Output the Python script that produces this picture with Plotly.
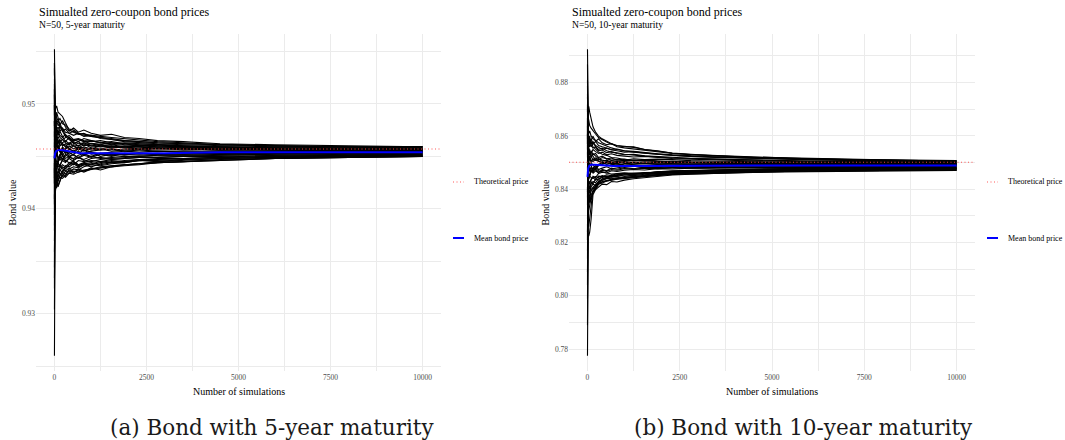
import plotly.graph_objects as go

# ---------------- data ----------------
n_sims = [1, 2, 4, 7, 12, 20, 35, 60, 100, 150, 220, 300, 400, 520, 650, 800,
          1000, 1250, 1550, 1900, 2300, 2800, 3500, 4500, 6000, 8000, 10000]

paths_5y = [
    [0.9552, 0.9524, 0.9509, 0.9494, 0.9502, 0.9492, 0.9496, 0.9498, 0.9492, 0.9490, 0.9488, 0.9482, 0.9475, 0.9473, 0.9471, 0.9472, 0.9469, 0.9468, 0.9466, 0.9465, 0.9464, 0.9463, 0.9462, 0.9461, 0.9460, 0.9459, 0.9459],
    [0.9260, 0.9334, 0.9374, 0.9394, 0.9409, 0.9414, 0.9419, 0.9424, 0.9421, 0.9427, 0.9432, 0.9430, 0.9434, 0.9433, 0.9435, 0.9436, 0.9437, 0.9439, 0.9441, 0.9442, 0.9443, 0.9444, 0.9445, 0.9446, 0.9448, 0.9449, 0.9450],
    [0.9527, 0.9539, 0.9514, 0.9499, 0.9489, 0.9484, 0.9489, 0.9482, 0.9484, 0.9478, 0.9474, 0.9476, 0.9472, 0.9470, 0.9472, 0.9469, 0.9470, 0.9467, 0.9466, 0.9464, 0.9463, 0.9462, 0.9461, 0.9460, 0.9459, 0.9458, 0.9458],
    [0.9359, 0.9394, 0.9404, 0.9419, 0.9414, 0.9424, 0.9429, 0.9426, 0.9432, 0.9434, 0.9431, 0.9436, 0.9435, 0.9438, 0.9437, 0.9440, 0.9442, 0.9441, 0.9443, 0.9444, 0.9446, 0.9445, 0.9447, 0.9448, 0.9449, 0.9450, 0.9451],
    [0.9494, 0.9514, 0.9494, 0.9479, 0.9484, 0.9476, 0.9469, 0.9474, 0.9472, 0.9479, 0.9476, 0.9470, 0.9468, 0.9465, 0.9466, 0.9464, 0.9462, 0.9463, 0.9461, 0.9462, 0.9460, 0.9461, 0.9459, 0.9458, 0.9457, 0.9457, 0.9456],
    [0.9404, 0.9444, 0.9424, 0.9414, 0.9429, 0.9426, 0.9434, 0.9432, 0.9430, 0.9436, 0.9440, 0.9438, 0.9442, 0.9444, 0.9441, 0.9443, 0.9442, 0.9444, 0.9446, 0.9445, 0.9447, 0.9448, 0.9448, 0.9449, 0.9450, 0.9451, 0.9451],
    [0.9474, 0.9434, 0.9459, 0.9472, 0.9479, 0.9484, 0.9474, 0.9478, 0.9472, 0.9468, 0.9466, 0.9463, 0.9461, 0.9464, 0.9462, 0.9463, 0.9460, 0.9461, 0.9459, 0.9460, 0.9459, 0.9458, 0.9458, 0.9457, 0.9457, 0.9456, 0.9456],
    [0.9334, 0.9374, 0.9399, 0.9406, 0.9419, 0.9429, 0.9424, 0.9432, 0.9436, 0.9442, 0.9446, 0.9444, 0.9448, 0.9445, 0.9442, 0.9444, 0.9446, 0.9445, 0.9447, 0.9448, 0.9449, 0.9449, 0.9450, 0.9450, 0.9451, 0.9452, 0.9452],
    [0.9514, 0.9484, 0.9464, 0.9474, 0.9459, 0.9449, 0.9456, 0.9462, 0.9458, 0.9464, 0.9466, 0.9468, 0.9470, 0.9466, 0.9467, 0.9465, 0.9464, 0.9465, 0.9463, 0.9462, 0.9461, 0.9460, 0.9459, 0.9459, 0.9458, 0.9458, 0.9459],
    [0.9424, 0.9469, 0.9484, 0.9474, 0.9464, 0.9472, 0.9462, 0.9454, 0.9449, 0.9446, 0.9451, 0.9448, 0.9450, 0.9447, 0.9449, 0.9446, 0.9445, 0.9447, 0.9448, 0.9449, 0.9450, 0.9451, 0.9451, 0.9452, 0.9453, 0.9453, 0.9453],
    [0.9459, 0.9484, 0.9469, 0.9459, 0.9444, 0.9439, 0.9446, 0.9442, 0.9444, 0.9450, 0.9454, 0.9458, 0.9460, 0.9457, 0.9459, 0.9458, 0.9456, 0.9457, 0.9455, 0.9456, 0.9456, 0.9455, 0.9455, 0.9455, 0.9454, 0.9454, 0.9454],
    [0.9384, 0.9419, 0.9439, 0.9429, 0.9444, 0.9454, 0.9462, 0.9466, 0.9469, 0.9464, 0.9460, 0.9462, 0.9457, 0.9455, 0.9458, 0.9456, 0.9454, 0.9452, 0.9451, 0.9452, 0.9451, 0.9452, 0.9452, 0.9453, 0.9453, 0.9454, 0.9455],
    [0.9539, 0.9499, 0.9484, 0.9494, 0.9484, 0.9489, 0.9482, 0.9476, 0.9478, 0.9474, 0.9477, 0.9473, 0.9472, 0.9474, 0.9471, 0.9470, 0.9469, 0.9468, 0.9467, 0.9465, 0.9464, 0.9463, 0.9462, 0.9461, 0.9460, 0.9459, 0.9458],
    [0.9439, 0.9414, 0.9404, 0.9416, 0.9412, 0.9424, 0.9419, 0.9426, 0.9428, 0.9430, 0.9429, 0.9432, 0.9434, 0.9436, 0.9435, 0.9437, 0.9438, 0.9440, 0.9441, 0.9442, 0.9443, 0.9444, 0.9445, 0.9447, 0.9448, 0.9449, 0.9450],
    [0.9484, 0.9449, 0.9439, 0.9454, 0.9466, 0.9474, 0.9469, 0.9464, 0.9460, 0.9456, 0.9452, 0.9450, 0.9454, 0.9451, 0.9449, 0.9452, 0.9450, 0.9453, 0.9454, 0.9455, 0.9456, 0.9457, 0.9457, 0.9456, 0.9456, 0.9456, 0.9455],
    [0.9304, 0.9364, 0.9394, 0.9419, 0.9434, 0.9442, 0.9446, 0.9454, 0.9457, 0.9460, 0.9462, 0.9459, 0.9463, 0.9460, 0.9458, 0.9461, 0.9460, 0.9459, 0.9460, 0.9458, 0.9459, 0.9457, 0.9457, 0.9456, 0.9456, 0.9456, 0.9456],
    [0.9504, 0.9524, 0.9504, 0.9489, 0.9494, 0.9484, 0.9476, 0.9484, 0.9479, 0.9482, 0.9474, 0.9469, 0.9466, 0.9463, 0.9460, 0.9462, 0.9458, 0.9457, 0.9459, 0.9458, 0.9457, 0.9458, 0.9457, 0.9456, 0.9456, 0.9455, 0.9455],
    [0.9444, 0.9424, 0.9439, 0.9449, 0.9434, 0.9432, 0.9426, 0.9436, 0.9434, 0.9439, 0.9442, 0.9440, 0.9444, 0.9442, 0.9446, 0.9445, 0.9448, 0.9449, 0.9447, 0.9448, 0.9449, 0.9449, 0.9450, 0.9451, 0.9452, 0.9452, 0.9452],
    [0.9519, 0.9479, 0.9444, 0.9434, 0.9424, 0.9429, 0.9439, 0.9436, 0.9444, 0.9450, 0.9446, 0.9452, 0.9449, 0.9448, 0.9451, 0.9453, 0.9455, 0.9456, 0.9457, 0.9456, 0.9457, 0.9458, 0.9458, 0.9457, 0.9457, 0.9457, 0.9457],
    [0.9414, 0.9389, 0.9409, 0.9424, 0.9432, 0.9439, 0.9444, 0.9440, 0.9448, 0.9452, 0.9454, 0.9457, 0.9459, 0.9461, 0.9460, 0.9463, 0.9462, 0.9461, 0.9463, 0.9461, 0.9460, 0.9460, 0.9459, 0.9458, 0.9458, 0.9457, 0.9457],
    [0.9469, 0.9499, 0.9484, 0.9474, 0.9469, 0.9462, 0.9466, 0.9460, 0.9457, 0.9454, 0.9450, 0.9446, 0.9444, 0.9445, 0.9442, 0.9443, 0.9444, 0.9442, 0.9444, 0.9445, 0.9446, 0.9447, 0.9448, 0.9449, 0.9451, 0.9451, 0.9452],
    [0.9369, 0.9404, 0.9424, 0.9419, 0.9426, 0.9418, 0.9424, 0.9420, 0.9426, 0.9432, 0.9436, 0.9439, 0.9442, 0.9446, 0.9449, 0.9447, 0.9450, 0.9448, 0.9449, 0.9450, 0.9450, 0.9451, 0.9451, 0.9451, 0.9452, 0.9453, 0.9453],
    [0.9499, 0.9474, 0.9462, 0.9449, 0.9459, 0.9469, 0.9464, 0.9472, 0.9462, 0.9466, 0.9462, 0.9460, 0.9457, 0.9455, 0.9453, 0.9456, 0.9452, 0.9453, 0.9451, 0.9452, 0.9453, 0.9452, 0.9453, 0.9453, 0.9454, 0.9455, 0.9454],
    [0.9394, 0.9429, 0.9459, 0.9469, 0.9462, 0.9454, 0.9448, 0.9444, 0.9440, 0.9442, 0.9438, 0.9436, 0.9439, 0.9435, 0.9437, 0.9435, 0.9438, 0.9439, 0.9440, 0.9442, 0.9443, 0.9445, 0.9446, 0.9448, 0.9449, 0.9450, 0.9451],
    [0.9479, 0.9509, 0.9502, 0.9499, 0.9492, 0.9496, 0.9489, 0.9487, 0.9484, 0.9486, 0.9481, 0.9480, 0.9476, 0.9475, 0.9472, 0.9471, 0.9470, 0.9469, 0.9468, 0.9467, 0.9466, 0.9464, 0.9463, 0.9461, 0.9460, 0.9459, 0.9459],
    [0.9429, 0.9449, 0.9464, 0.9446, 0.9439, 0.9449, 0.9456, 0.9450, 0.9458, 0.9454, 0.9459, 0.9456, 0.9452, 0.9454, 0.9457, 0.9455, 0.9458, 0.9456, 0.9457, 0.9455, 0.9454, 0.9455, 0.9454, 0.9454, 0.9455, 0.9454, 0.9454],
    [0.9464, 0.9439, 0.9429, 0.9422, 0.9429, 0.9436, 0.9432, 0.9428, 0.9434, 0.9437, 0.9435, 0.9441, 0.9440, 0.9443, 0.9440, 0.9442, 0.9443, 0.9445, 0.9444, 0.9446, 0.9447, 0.9447, 0.9448, 0.9449, 0.9450, 0.9451, 0.9451],
    [0.9344, 0.9409, 0.9434, 0.9464, 0.9474, 0.9466, 0.9472, 0.9468, 0.9474, 0.9470, 0.9468, 0.9471, 0.9467, 0.9465, 0.9466, 0.9464, 0.9465, 0.9463, 0.9462, 0.9463, 0.9462, 0.9461, 0.9460, 0.9459, 0.9458, 0.9458, 0.9457],
    [0.9484, 0.9464, 0.9434, 0.9444, 0.9429, 0.9419, 0.9426, 0.9434, 0.9428, 0.9432, 0.9436, 0.9433, 0.9437, 0.9434, 0.9438, 0.9436, 0.9439, 0.9437, 0.9440, 0.9441, 0.9442, 0.9444, 0.9445, 0.9446, 0.9448, 0.9449, 0.9450],
    [0.9409, 0.9474, 0.9494, 0.9484, 0.9489, 0.9479, 0.9484, 0.9492, 0.9487, 0.9480, 0.9484, 0.9478, 0.9474, 0.9477, 0.9473, 0.9475, 0.9472, 0.9470, 0.9471, 0.9468, 0.9467, 0.9465, 0.9464, 0.9462, 0.9461, 0.9460, 0.9459],
    [0.9509, 0.9489, 0.9474, 0.9464, 0.9454, 0.9460, 0.9450, 0.9456, 0.9446, 0.9452, 0.9458, 0.9453, 0.9457, 0.9460, 0.9456, 0.9459, 0.9457, 0.9460, 0.9458, 0.9459, 0.9457, 0.9458, 0.9456, 0.9457, 0.9456, 0.9455, 0.9455],
    [0.9324, 0.9384, 0.9414, 0.9434, 0.9424, 0.9432, 0.9442, 0.9436, 0.9444, 0.9440, 0.9448, 0.9445, 0.9449, 0.9452, 0.9448, 0.9451, 0.9449, 0.9452, 0.9450, 0.9453, 0.9452, 0.9453, 0.9452, 0.9453, 0.9453, 0.9453, 0.9454],
    [0.9454, 0.9414, 0.9394, 0.9409, 0.9422, 0.9414, 0.9424, 0.9430, 0.9422, 0.9426, 0.9434, 0.9431, 0.9438, 0.9440, 0.9439, 0.9442, 0.9440, 0.9443, 0.9445, 0.9444, 0.9446, 0.9446, 0.9447, 0.9448, 0.9449, 0.9450, 0.9450],
    [0.9489, 0.9504, 0.9479, 0.9486, 0.9474, 0.9464, 0.9469, 0.9459, 0.9466, 0.9460, 0.9463, 0.9465, 0.9462, 0.9466, 0.9464, 0.9467, 0.9465, 0.9463, 0.9464, 0.9462, 0.9462, 0.9461, 0.9460, 0.9459, 0.9458, 0.9457, 0.9457],
    [0.9379, 0.9399, 0.9429, 0.9444, 0.9459, 0.9449, 0.9459, 0.9452, 0.9460, 0.9457, 0.9451, 0.9455, 0.9450, 0.9452, 0.9455, 0.9451, 0.9454, 0.9450, 0.9452, 0.9451, 0.9453, 0.9452, 0.9453, 0.9452, 0.9453, 0.9453, 0.9453],
    [0.9534, 0.9494, 0.9504, 0.9484, 0.9469, 0.9476, 0.9484, 0.9474, 0.9470, 0.9474, 0.9469, 0.9464, 0.9468, 0.9462, 0.9464, 0.9460, 0.9462, 0.9460, 0.9461, 0.9459, 0.9460, 0.9459, 0.9458, 0.9458, 0.9457, 0.9456, 0.9456],
]

paths_10y = [
    [0.8925, 0.8789, 0.8729, 0.8709, 0.8689, 0.8669, 0.8659, 0.8639, 0.8629, 0.8619, 0.8607, 0.8594, 0.8585, 0.8577, 0.8569, 0.8564, 0.8561, 0.8557, 0.8549, 0.8543, 0.8536, 0.8531, 0.8525, 0.8520, 0.8515, 0.8510, 0.8507],
    [0.7775, 0.8089, 0.8189, 0.8209, 0.8219, 0.8234, 0.8224, 0.8239, 0.8289, 0.8379, 0.8399, 0.8419, 0.8427, 0.8431, 0.8434, 0.8437, 0.8439, 0.8442, 0.8447, 0.8451, 0.8455, 0.8457, 0.8460, 0.8463, 0.8466, 0.8469, 0.8470],
    [0.8739, 0.8749, 0.8689, 0.8639, 0.8659, 0.8689, 0.8711, 0.8689, 0.8659, 0.8634, 0.8614, 0.8599, 0.8589, 0.8579, 0.8571, 0.8563, 0.8559, 0.8559, 0.8549, 0.8544, 0.8535, 0.8530, 0.8526, 0.8521, 0.8514, 0.8509, 0.8506],
    [0.8089, 0.8239, 0.8269, 0.8289, 0.8309, 0.8299, 0.8319, 0.8339, 0.8369, 0.8389, 0.8404, 0.8421, 0.8429, 0.8434, 0.8437, 0.8439, 0.8441, 0.8445, 0.8449, 0.8453, 0.8456, 0.8459, 0.8462, 0.8465, 0.8468, 0.8470, 0.8472],
    [0.8639, 0.8609, 0.8589, 0.8619, 0.8599, 0.8579, 0.8589, 0.8569, 0.8559, 0.8574, 0.8564, 0.8557, 0.8549, 0.8554, 0.8547, 0.8544, 0.8539, 0.8541, 0.8535, 0.8531, 0.8527, 0.8523, 0.8519, 0.8515, 0.8511, 0.8505, 0.8503],
    [0.8239, 0.8309, 0.8359, 0.8389, 0.8369, 0.8399, 0.8379, 0.8394, 0.8409, 0.8419, 0.8414, 0.8429, 0.8434, 0.8439, 0.8443, 0.8441, 0.8445, 0.8449, 0.8451, 0.8454, 0.8458, 0.8461, 0.8463, 0.8466, 0.8468, 0.8470, 0.8471],
    [0.8569, 0.8669, 0.8629, 0.8589, 0.8569, 0.8549, 0.8559, 0.8539, 0.8534, 0.8549, 0.8541, 0.8534, 0.8539, 0.8529, 0.8533, 0.8527, 0.8524, 0.8521, 0.8523, 0.8519, 0.8515, 0.8513, 0.8510, 0.8506, 0.8503, 0.8500, 0.8499],
    [0.7989, 0.8189, 0.8289, 0.8339, 0.8389, 0.8409, 0.8429, 0.8419, 0.8439, 0.8444, 0.8434, 0.8449, 0.8447, 0.8454, 0.8451, 0.8459, 0.8461, 0.8459, 0.8462, 0.8463, 0.8461, 0.8464, 0.8467, 0.8469, 0.8473, 0.8475, 0.8476],
    [0.8809, 0.8689, 0.8629, 0.8579, 0.8549, 0.8529, 0.8519, 0.8539, 0.8524, 0.8509, 0.8517, 0.8511, 0.8519, 0.8513, 0.8509, 0.8511, 0.8507, 0.8509, 0.8506, 0.8504, 0.8505, 0.8502, 0.8501, 0.8499, 0.8498, 0.8498, 0.8497],
    [0.8339, 0.8409, 0.8459, 0.8429, 0.8399, 0.8419, 0.8409, 0.8429, 0.8434, 0.8449, 0.8444, 0.8459, 0.8464, 0.8461, 0.8469, 0.8467, 0.8471, 0.8474, 0.8472, 0.8477, 0.8476, 0.8479, 0.8480, 0.8481, 0.8482, 0.8483, 0.8483],
    [0.8519, 0.8609, 0.8559, 0.8529, 0.8509, 0.8489, 0.8469, 0.8479, 0.8464, 0.8474, 0.8484, 0.8494, 0.8499, 0.8493, 0.8497, 0.8501, 0.8497, 0.8495, 0.8498, 0.8494, 0.8495, 0.8492, 0.8493, 0.8491, 0.8491, 0.8490, 0.8490],
    [0.8169, 0.8289, 0.8369, 0.8429, 0.8459, 0.8479, 0.8499, 0.8514, 0.8504, 0.8514, 0.8509, 0.8504, 0.8499, 0.8501, 0.8494, 0.8497, 0.8491, 0.8487, 0.8489, 0.8485, 0.8484, 0.8483, 0.8484, 0.8483, 0.8484, 0.8485, 0.8485],
    [0.8869, 0.8739, 0.8669, 0.8649, 0.8609, 0.8619, 0.8599, 0.8579, 0.8589, 0.8569, 0.8579, 0.8564, 0.8559, 0.8554, 0.8549, 0.8551, 0.8544, 0.8539, 0.8535, 0.8532, 0.8527, 0.8523, 0.8520, 0.8516, 0.8511, 0.8508, 0.8505],
    [0.8409, 0.8339, 0.8309, 0.8329, 0.8349, 0.8369, 0.8359, 0.8379, 0.8394, 0.8404, 0.8409, 0.8419, 0.8423, 0.8431, 0.8435, 0.8439, 0.8444, 0.8447, 0.8451, 0.8455, 0.8458, 0.8461, 0.8464, 0.8467, 0.8471, 0.8473, 0.8474],
    [0.8609, 0.8539, 0.8489, 0.8519, 0.8549, 0.8569, 0.8539, 0.8529, 0.8519, 0.8534, 0.8524, 0.8514, 0.8509, 0.8504, 0.8499, 0.8494, 0.8491, 0.8494, 0.8497, 0.8499, 0.8498, 0.8499, 0.8498, 0.8497, 0.8496, 0.8495, 0.8495],
    [0.7889, 0.8189, 0.8309, 0.8349, 0.8389, 0.8429, 0.8439, 0.8449, 0.8469, 0.8479, 0.8474, 0.8489, 0.8494, 0.8499, 0.8495, 0.8501, 0.8504, 0.8501, 0.8503, 0.8499, 0.8501, 0.8499, 0.8498, 0.8496, 0.8495, 0.8494, 0.8493],
    [0.8689, 0.8709, 0.8659, 0.8619, 0.8589, 0.8579, 0.8599, 0.8569, 0.8579, 0.8559, 0.8549, 0.8539, 0.8531, 0.8527, 0.8519, 0.8517, 0.8511, 0.8507, 0.8509, 0.8505, 0.8503, 0.8502, 0.8500, 0.8499, 0.8497, 0.8496, 0.8496],
    [0.8449, 0.8379, 0.8419, 0.8399, 0.8369, 0.8389, 0.8379, 0.8359, 0.8399, 0.8409, 0.8419, 0.8424, 0.8439, 0.8444, 0.8447, 0.8449, 0.8453, 0.8457, 0.8459, 0.8462, 0.8464, 0.8468, 0.8470, 0.8473, 0.8475, 0.8477, 0.8478],
    [0.8759, 0.8639, 0.8549, 0.8509, 0.8469, 0.8449, 0.8459, 0.8474, 0.8464, 0.8479, 0.8489, 0.8474, 0.8479, 0.8484, 0.8477, 0.8481, 0.8484, 0.8489, 0.8491, 0.8492, 0.8491, 0.8493, 0.8494, 0.8494, 0.8493, 0.8493, 0.8492],
    [0.8289, 0.8329, 0.8359, 0.8389, 0.8419, 0.8439, 0.8459, 0.8449, 0.8469, 0.8464, 0.8479, 0.8489, 0.8494, 0.8501, 0.8507, 0.8504, 0.8509, 0.8514, 0.8511, 0.8513, 0.8511, 0.8507, 0.8505, 0.8503, 0.8501, 0.8499, 0.8498],
    [0.8549, 0.8659, 0.8609, 0.8579, 0.8549, 0.8529, 0.8509, 0.8519, 0.8499, 0.8489, 0.8479, 0.8469, 0.8464, 0.8461, 0.8457, 0.8459, 0.8461, 0.8459, 0.8462, 0.8464, 0.8467, 0.8469, 0.8471, 0.8474, 0.8477, 0.8479, 0.8480],
    [0.8039, 0.8239, 0.8339, 0.8389, 0.8359, 0.8339, 0.8369, 0.8349, 0.8379, 0.8394, 0.8409, 0.8424, 0.8434, 0.8441, 0.8449, 0.8454, 0.8459, 0.8456, 0.8461, 0.8465, 0.8469, 0.8471, 0.8474, 0.8476, 0.8478, 0.8480, 0.8481],
    [0.8669, 0.8579, 0.8529, 0.8499, 0.8519, 0.8539, 0.8514, 0.8524, 0.8509, 0.8504, 0.8511, 0.8507, 0.8499, 0.8501, 0.8494, 0.8489, 0.8484, 0.8486, 0.8481, 0.8483, 0.8480, 0.8479, 0.8480, 0.8480, 0.8481, 0.8482, 0.8483],
    [0.8209, 0.8359, 0.8429, 0.8469, 0.8489, 0.8459, 0.8439, 0.8449, 0.8444, 0.8441, 0.8447, 0.8444, 0.8451, 0.8445, 0.8449, 0.8447, 0.8454, 0.8451, 0.8456, 0.8459, 0.8461, 0.8465, 0.8469, 0.8472, 0.8475, 0.8477, 0.8478],
    [0.8589, 0.8719, 0.8689, 0.8669, 0.8639, 0.8629, 0.8609, 0.8619, 0.8599, 0.8589, 0.8584, 0.8574, 0.8569, 0.8561, 0.8555, 0.8549, 0.8544, 0.8542, 0.8537, 0.8533, 0.8529, 0.8525, 0.8521, 0.8517, 0.8512, 0.8508, 0.8506],
    [0.8459, 0.8509, 0.8549, 0.8529, 0.8499, 0.8509, 0.8479, 0.8499, 0.8489, 0.8469, 0.8474, 0.8464, 0.8471, 0.8467, 0.8474, 0.8471, 0.8477, 0.8475, 0.8479, 0.8477, 0.8480, 0.8481, 0.8482, 0.8483, 0.8485, 0.8486, 0.8486],
    [0.8509, 0.8429, 0.8389, 0.8339, 0.8319, 0.8289, 0.8259, 0.8289, 0.8329, 0.8399, 0.8414, 0.8429, 0.8437, 0.8441, 0.8439, 0.8443, 0.8449, 0.8453, 0.8454, 0.8459, 0.8462, 0.8464, 0.8467, 0.8470, 0.8472, 0.8474, 0.8475],
    [0.8369, 0.8449, 0.8519, 0.8549, 0.8579, 0.8559, 0.8569, 0.8589, 0.8569, 0.8579, 0.8559, 0.8549, 0.8554, 0.8544, 0.8539, 0.8537, 0.8531, 0.8529, 0.8524, 0.8521, 0.8517, 0.8515, 0.8512, 0.8509, 0.8505, 0.8502, 0.8501],
    [0.8639, 0.8529, 0.8439, 0.8399, 0.8369, 0.8389, 0.8419, 0.8399, 0.8429, 0.8419, 0.8439, 0.8434, 0.8449, 0.8444, 0.8454, 0.8451, 0.8459, 0.8455, 0.8461, 0.8459, 0.8464, 0.8467, 0.8469, 0.8471, 0.8474, 0.8476, 0.8477],
    [0.8139, 0.8339, 0.8429, 0.8489, 0.8529, 0.8549, 0.8569, 0.8559, 0.8584, 0.8599, 0.8579, 0.8589, 0.8574, 0.8567, 0.8571, 0.8559, 0.8555, 0.8551, 0.8545, 0.8541, 0.8534, 0.8529, 0.8524, 0.8519, 0.8513, 0.8509, 0.8506],
    [0.8539, 0.8489, 0.8519, 0.8469, 0.8499, 0.8519, 0.8549, 0.8529, 0.8544, 0.8529, 0.8534, 0.8519, 0.8524, 0.8514, 0.8517, 0.8509, 0.8513, 0.8507, 0.8509, 0.8504, 0.8505, 0.8501, 0.8499, 0.8498, 0.8496, 0.8494, 0.8494],
    [0.8269, 0.8209, 0.8269, 0.8329, 0.8339, 0.8369, 0.8399, 0.8389, 0.8419, 0.8429, 0.8424, 0.8439, 0.8444, 0.8449, 0.8446, 0.8454, 0.8457, 0.8461, 0.8459, 0.8465, 0.8467, 0.8470, 0.8472, 0.8474, 0.8477, 0.8479, 0.8480],
    [0.8789, 0.8669, 0.8599, 0.8549, 0.8509, 0.8489, 0.8499, 0.8469, 0.8484, 0.8459, 0.8469, 0.8461, 0.8474, 0.8469, 0.8479, 0.8475, 0.8481, 0.8477, 0.8483, 0.8481, 0.8485, 0.8484, 0.8486, 0.8487, 0.8488, 0.8489, 0.8489],
    [0.8389, 0.8549, 0.8609, 0.8589, 0.8619, 0.8599, 0.8579, 0.8599, 0.8564, 0.8554, 0.8559, 0.8544, 0.8547, 0.8537, 0.8541, 0.8534, 0.8529, 0.8531, 0.8525, 0.8522, 0.8519, 0.8516, 0.8513, 0.8510, 0.8506, 0.8503, 0.8502],
    [0.8489, 0.8439, 0.8369, 0.8309, 0.8289, 0.8319, 0.8339, 0.8369, 0.8359, 0.8389, 0.8399, 0.8409, 0.8419, 0.8417, 0.8429, 0.8427, 0.8434, 0.8439, 0.8443, 0.8449, 0.8453, 0.8456, 0.8460, 0.8464, 0.8468, 0.8471, 0.8472],
    [0.8719, 0.8589, 0.8559, 0.8529, 0.8559, 0.8539, 0.8529, 0.8549, 0.8529, 0.8524, 0.8509, 0.8514, 0.8504, 0.8509, 0.8501, 0.8504, 0.8499, 0.8501, 0.8497, 0.8499, 0.8496, 0.8495, 0.8495, 0.8494, 0.8493, 0.8492, 0.8491],
]

mean_n = [1, 5, 20, 50, 100, 200, 400, 700, 1200, 2000, 3000, 4500, 6500, 8500, 10000]
mean_5y = [0.9448, 0.9450, 0.9453, 0.9455, 0.9456, 0.9456, 0.9455, 0.9453, 0.9453, 0.9453, 0.9453, 0.9454, 0.9454, 0.9454, 0.9454]
mean_10y = [0.8446, 0.8458, 0.8478, 0.8488, 0.8492, 0.8492, 0.8490, 0.8487, 0.8487, 0.8488, 0.8488, 0.8489, 0.8489, 0.8489, 0.8489]

theoretical_5y = 0.9457
theoretical_10y = 0.8501

x_ticks = [0, 2500, 5000, 7500, 10000]
x_minor = [1250, 3750, 6250, 8750]
y_ticks_5y = [0.93, 0.94, 0.95]
y_minor_5y = [0.925, 0.935, 0.945, 0.955]
y_ticks_10y = [0.78, 0.80, 0.82, 0.84, 0.86, 0.88]
y_minor_10y = [0.77, 0.79, 0.81, 0.83, 0.85, 0.87, 0.89]

titles = ["Simualted zero-coupon bond prices", "Simualted zero-coupon bond prices"]
subtitles = ["N=50, 5-year maturity", "N=50, 10-year maturity"]
captions = ["(a) Bond with 5-year maturity", "(b) Bond with 10-year maturity"]
legend_labels = ["Theoretical price", "Mean bond price"]

# ---------------- layout helpers ----------------
W, H = 1065, 440
FONT = "Liberation Serif"
CAP_FONT = "DejaVu Serif"
GRID = "#EBEBEB"
TICK_COL = "#4D4D4D"
RED = "rgba(255,70,70,0.9)"
DOTS = "1px,2.5px"


def X(px):
    return px / W


def Y(py):
    return 1 - py / H


panel_top, panel_bot = 34, 371
panels = [
    dict(x0=36, x1=441, paths=paths_5y, mean=mean_5y, theo=theoretical_5y,
         yt=y_ticks_5y, ym=y_minor_5y, yr=[0.92454, 0.95666], xa="x", ya="y"),
    dict(x0=569, x1=975, paths=paths_10y, mean=mean_10y, theo=theoretical_10y,
         yt=y_ticks_10y, ym=y_minor_10y, yr=[0.77175, 0.89825], xa="x2", ya="y2"),
]

fig = go.Figure()

for p in panels:
    for path in p["paths"]:
        fig.add_trace(go.Scatter(x=n_sims, y=path, mode="lines",
                                 line=dict(color="black", width=1.1),
                                 xaxis=p["xa"], yaxis=p["ya"], showlegend=False,
                                 hoverinfo="skip"))
    fig.add_trace(go.Scatter(x=mean_n, y=p["mean"], mode="lines",
                             line=dict(color="#0000FF", width=2),
                             xaxis=p["xa"], yaxis=p["ya"], showlegend=False,
                             name=legend_labels[1]))

annotations = []
shapes = []

for i, p in enumerate(panels):
    suffix = "" if i == 0 else "2"
    xdom = [X(p["x0"]), X(p["x1"])]
    ydom = [Y(panel_bot), Y(panel_top)]
    fig.update_layout(**{
        "xaxis" + suffix: dict(
            domain=xdom, range=[-500, 10500], anchor="y" + suffix,
            tickmode="array", tickvals=x_ticks, ticktext=[str(v) for v in x_ticks],
            showgrid=True, gridcolor=GRID, gridwidth=1,
            minor=dict(tickmode="array", tickvals=x_minor, showgrid=True,
                       gridcolor=GRID, gridwidth=0.6),
            zeroline=False, showline=False, ticks="",
            tickfont=dict(family=FONT, size=7.5, color=TICK_COL),
        ),
        "yaxis" + suffix: dict(
            domain=ydom, range=p["yr"], anchor="x" + suffix,
            tickmode="array", tickvals=p["yt"], ticktext=["%.2f" % v for v in p["yt"]],
            showgrid=True, gridcolor=GRID, gridwidth=1,
            minor=dict(tickmode="array", tickvals=p["ym"], showgrid=True,
                       gridcolor=GRID, gridwidth=0.6),
            zeroline=False, showline=False, ticks="",
            tickfont=dict(family=FONT, size=7.5, color=TICK_COL),
        ),
    })

    # theoretical price (dotted red horizontal line)
    shapes.append(dict(type="line", xref=p["xa"] + " domain", x0=0, x1=1,
                       yref=p["ya"], y0=p["theo"], y1=p["theo"],
                       line=dict(color=RED, width=1.1, dash=DOTS),
                       layer="above"))

    # titles
    annotations.append(dict(text=titles[i], x=X(p["x0"] + 1), y=Y(11.7), xref="paper", yref="paper",
                            xanchor="left", yanchor="middle", showarrow=False,
                            font=dict(family=FONT, size=12, color="black")))
    annotations.append(dict(text=subtitles[i], x=X(p["x0"] + 1), y=Y(25), xref="paper", yref="paper",
                            xanchor="left", yanchor="middle", showarrow=False,
                            font=dict(family=FONT, size=9.6, color="black")))
    # axis titles
    annotations.append(dict(text="Number of simulations", x=X((p["x0"] + p["x1"]) / 2), y=Y(391),
                            xref="paper", yref="paper", xanchor="center", yanchor="middle",
                            showarrow=False, font=dict(family=FONT, size=10, color="black")))
    annotations.append(dict(text="Bond value", x=X(p["x0"] - 24), y=Y((panel_top + panel_bot) / 2),
                            xref="paper", yref="paper", xanchor="center", yanchor="middle",
                            textangle=-90, showarrow=False,
                            font=dict(family=FONT, size=10, color="black")))
    # legend (two keys)
    kx0 = p["x1"] + 12
    shapes.append(dict(type="line", xref="paper", yref="paper", x0=X(kx0), x1=X(kx0 + 11),
                       y0=Y(182), y1=Y(182),
                       line=dict(color=RED, width=1.1, dash=DOTS)))
    shapes.append(dict(type="line", xref="paper", yref="paper", x0=X(kx0), x1=X(kx0 + 11),
                       y0=Y(238), y1=Y(238), line=dict(color="#0000FF", width=2)))
    annotations.append(dict(text=legend_labels[0], x=X(kx0 + 19), y=Y(182), xref="paper", yref="paper",
                            xanchor="left", yanchor="middle", showarrow=False,
                            font=dict(family=FONT, size=8, color="black")))
    annotations.append(dict(text=legend_labels[1], x=X(kx0 + 19), y=Y(238), xref="paper", yref="paper",
                            xanchor="left", yanchor="middle", showarrow=False,
                            font=dict(family=FONT, size=8, color="black")))

# sub-figure captions
annotations.append(dict(text=captions[0], x=X(272), y=Y(427), xref="paper", yref="paper",
                        xanchor="center", yanchor="middle", showarrow=False,
                        font=dict(family=CAP_FONT, size=21.5, color="#1a1a1a")))
annotations.append(dict(text=captions[1], x=X(803), y=Y(427), xref="paper", yref="paper",
                        xanchor="center", yanchor="middle", showarrow=False,
                        font=dict(family=CAP_FONT, size=21.5, color="#1a1a1a")))

fig.update_layout(
    width=W, height=H,
    margin=dict(l=0, r=0, t=0, b=0, autoexpand=False),
    paper_bgcolor="white", plot_bgcolor="white",
    showlegend=False,
    annotations=annotations, shapes=shapes,
)

fig.write_html("out.html")
